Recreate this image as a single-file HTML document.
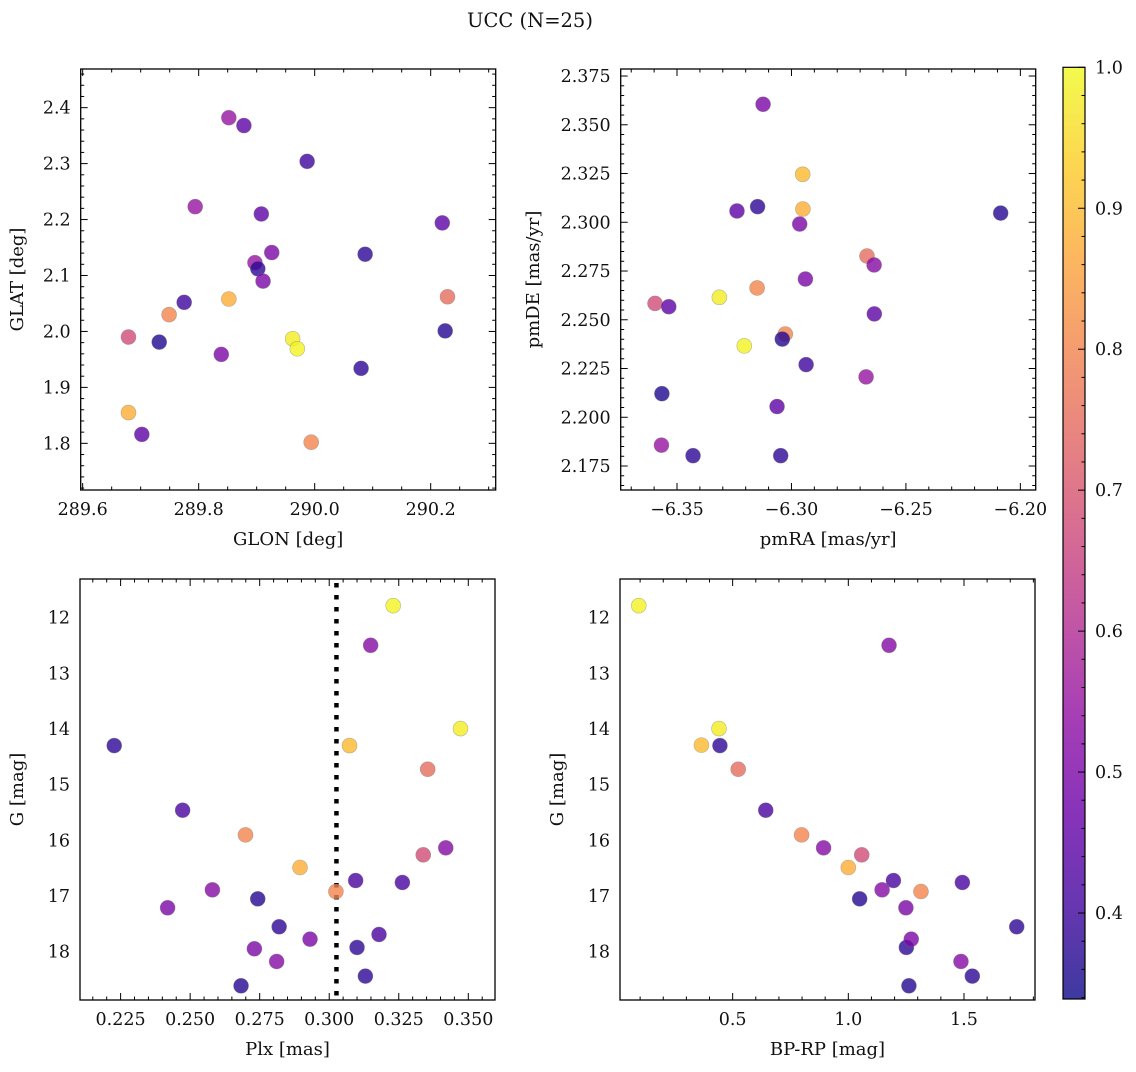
<!DOCTYPE html>
<html><head><meta charset="utf-8"><style>
html,body{margin:0;padding:0;background:#fff;}
svg text{font-family:"DejaVu Serif","Liberation Serif",serif;fill:#111;}
</style></head><body>
<svg id="fig" xmlns="http://www.w3.org/2000/svg" width="1136" height="1067" viewBox="0 0 1136 1067">
<text x="530" y="27" font-size="19.5" text-anchor="middle">UCC (N=25)</text>
<defs>
<linearGradient id="cbgrad" x1="0" y1="1" x2="0" y2="0">
<stop offset="0" stop-color="#0d0887"/><stop offset="0.1" stop-color="#41049d"/><stop offset="0.2" stop-color="#6a00a8"/><stop offset="0.3" stop-color="#8f0da4"/><stop offset="0.4" stop-color="#b12a90"/><stop offset="0.5" stop-color="#cc4778"/><stop offset="0.6" stop-color="#e16462"/><stop offset="0.7" stop-color="#f2844b"/><stop offset="0.8" stop-color="#fca636"/><stop offset="0.9" stop-color="#fcce25"/><stop offset="1" stop-color="#f0f921"/>
</linearGradient>
</defs>
</svg>
<script>
// ---- data ----
const glon = [289.852,289.878,289.987,289.794,289.908,290.220,289.926,290.087,289.897,289.902,289.911,290.229,289.852,289.775,289.749,290.225,289.679,289.962,289.732,289.970,289.839,290.080,289.679,289.702,289.994];
const glat = [2.382,2.368,2.304,2.223,2.210,2.194,2.141,2.138,2.123,2.112,2.090,2.062,2.058,2.052,2.030,2.001,1.990,1.987,1.981,1.969,1.959,1.934,1.855,1.816,1.802];
const probP1 = [0.55,0.45,0.40,0.55,0.45,0.45,0.50,0.38,0.55,0.38,0.50,0.75,0.88,0.40,0.80,0.37,0.68,0.98,0.36,0.99,0.50,0.38,0.88,0.45,0.80];

const pmra = [-6.3124,-6.2951,-6.3148,-6.3238,-6.2086,-6.2950,-6.2964,-6.2670,-6.2639,-6.2939,-6.3315,-6.3596,-6.3536,-6.3150,-6.2638,-6.3027,-6.3040,-6.3206,-6.2936,-6.2674,-6.3566,-6.3063,-6.3568,-6.3430,-6.3047];
const pmde = [2.3605,2.3246,2.3080,2.3058,2.3047,2.3068,2.2991,2.2827,2.2781,2.2709,2.2615,2.2584,2.2567,2.2663,2.2530,2.2427,2.2401,2.2366,2.2270,2.2207,2.2121,2.2055,2.1857,2.1803,2.1803];
const probP2 = [0.50,0.90,0.38,0.45,0.37,0.88,0.50,0.75,0.52,0.50,0.98,0.68,0.45,0.80,0.45,0.80,0.37,0.99,0.40,0.55,0.36,0.45,0.55,0.38,0.38];

const plx = [0.3230,0.3149,0.3472,0.2227,0.3073,0.3354,0.2473,0.2699,0.3419,0.3338,0.2895,0.3095,0.3263,0.2580,0.3024,0.2743,0.2419,0.2820,0.3179,0.2931,0.3100,0.2731,0.2811,0.3130,0.2683];
const gP3 = [11.785,12.497,13.993,14.298,14.298,14.723,15.459,15.902,16.135,16.261,16.488,16.722,16.757,16.889,16.919,17.051,17.212,17.553,17.691,17.775,17.924,17.948,18.176,18.439,18.613];
const probP3 = [0.99,0.52,0.98,0.38,0.90,0.75,0.42,0.80,0.52,0.68,0.88,0.42,0.42,0.52,0.80,0.37,0.50,0.38,0.42,0.50,0.38,0.50,0.52,0.38,0.37];

const bprp = [0.094,1.176,0.441,0.365,0.445,0.524,0.643,0.798,0.893,1.058,1.000,1.195,1.493,1.146,1.314,1.049,1.249,1.728,1.251,1.272,1.487,1.536,1.262];
const gP4 = [11.785,12.497,13.993,14.290,14.298,14.723,15.459,15.902,16.135,16.261,16.488,16.722,16.757,16.889,16.919,17.051,17.212,17.553,17.924,17.775,18.176,18.439,18.613];
const probP4 = [0.99,0.52,0.98,0.90,0.38,0.75,0.42,0.80,0.52,0.68,0.88,0.42,0.42,0.52,0.80,0.37,0.50,0.38,0.38,0.50,0.52,0.38,0.37];

const plxLine = [0.3026];
const cbTicks = [0.4,0.5,0.6,0.7,0.8,0.9,1.0];
const xTicksP1 = [289.6,289.8,290.0,290.2];
const yTicksP1 = [1.8,1.9,2.0,2.1,2.2,2.3,2.4];
const xTicksP2 = [-6.35,-6.30,-6.25,-6.20];
const yTicksP2 = [2.175,2.200,2.225,2.250,2.275,2.300,2.325,2.350,2.375];
const xTicksP3 = [0.225,0.250,0.275,0.300,0.325,0.350];
const yTicksG = [12,13,14,15,16,17,18];
const xTicksP4 = [0.5,1.0,1.5];

const NS = "http://www.w3.org/2000/svg";
const svg = document.getElementById('fig');
const VMIN = 0.339, VMAX = 1.0;
const stops = [[13,8,135],[65,4,157],[106,0,168],[143,13,164],[177,42,144],[204,71,120],[225,100,98],[242,132,75],[252,166,54],[252,206,37],[240,249,33]];
function cmap(v){
  let t=(v-VMIN)/(VMAX-VMIN); t=Math.max(0,Math.min(1,t));
  const p=t*10, i=Math.min(9,Math.floor(p)), f=p-i;
  const c=stops[i].map((a,k)=>Math.round(a+(stops[i+1][k]-a)*f));
  return 'rgb('+c.join(',')+')';
}
function mk(tag, attrs, parent){
  const e=document.createElementNS(NS,tag);
  for(const k in attrs) e.setAttribute(k,attrs[k]);
  (parent||svg).appendChild(e); return e;
}
function fmtDash(s){return s.replace('-','\u2212');}

function panel(p){
  const g=mk('g',{});
  
  
  const sx=v=>p.x0+(v-p.xmin)/(p.xmax-p.xmin)*(p.x1-p.x0);
  const sy=v=>p.y1-(v-p.ymin)/(p.ymax-p.ymin)*(p.y1-p.y0);
  if(p.vline){
    p.vline.forEach(v=>{
      const l=mk('line',{x1:sx(v),x2:sx(v),y1:p.y0+4,y2:p.y1,stroke:'#000','stroke-width':4.5,'stroke-dasharray':'4.5,7.5'},g);
      
      
    });
  }
  for(let i=0;i<p.xs.length;i++){
    const c=mk('circle',{cx:sx(p.xs[i]),cy:sy(p.ys[i]),r:7.5,fill:cmap(p.cs[i]),'fill-opacity':0.8,stroke:'#777','stroke-opacity':0.5,'stroke-width':0.6},g);
    
    
  }
  const fr=mk('rect',{x:p.x0,y:p.y0,width:p.x1-p.x0,height:p.y1-p.y0,fill:'none',stroke:'#000','stroke-width':1.3},g);
  
  
  const tk=mk('g',{stroke:'#000','stroke-width':1},g);
  
  
  const eps=1e-9;
  for(let v=Math.ceil(p.xmin/p.xminor-eps)*p.xminor; v<=p.xmax+eps; v+=p.xminor){
    const X=sx(v); if(X<p.x0-0.5||X>p.x1+0.5) continue;
    const major=p.xt.some(t=>Math.abs(t-v)<p.xminor*0.3);
    const L=major?7:3.5;
    mk('line',{x1:X,x2:X,y1:p.y1,y2:p.y1-L},tk); mk('line',{x1:X,x2:X,y1:p.y0,y2:p.y0+L},tk);
  }
  for(let v=Math.ceil(p.ymin/p.yminor-eps)*p.yminor; v<=p.ymax+eps; v+=p.yminor){
    const Y=sy(v); if(Y<p.y0-0.5||Y>p.y1+0.5) continue;
    const major=p.yt.some(t=>Math.abs(t-v)<p.yminor*0.3);
    const L=major?7:3.5;
    mk('line',{x1:p.x0,x2:p.x0+L,y1:Y,y2:Y},tk); mk('line',{x1:p.x1,x2:p.x1-L,y1:Y,y2:Y},tk);
  }
  p.xt.forEach(v=>{
    const t=mk('text',{x:sx(v),y:p.y1+25,'font-size':17.5,'text-anchor':'middle'},g);
    t.textContent=fmtDash(v.toFixed(p.xdec));
    
    
  });
  p.yt.forEach(v=>{
    const t=mk('text',{x:p.x0-10,y:sy(v)+6,'font-size':17.5,'text-anchor':'end'},g);
    t.textContent=fmtDash(v.toFixed(p.ydec));
    
    
  });
  const xl=mk('text',{x:(p.x0+p.x1)/2,y:p.y1+55,'font-size':18,'text-anchor':'middle'},g);
  xl.textContent=p.xlabel;
  
  
  const yc=(p.y0+p.y1)/2;
  const yl=mk('text',{x:p.ylx,y:yc,'font-size':18,'text-anchor':'middle',transform:'rotate(-90 '+p.ylx+' '+yc+')'},g);
  yl.textContent=p.ylabel;
  
  
}

panel({name:'glon-glat-panel',x0:80.7,x1:495.7,y0:69,y1:490,xmin:289.5966,xmax:290.3121,ymin:1.7166,ymax:2.4691,
  xs:glon,ys:glat,cs:probP1,xt:xTicksP1,yt:yTicksP1,xminor:0.05,yminor:0.02,xdec:1,ydec:1,xlabel:'GLON [deg]',ylabel:'GLAT [deg]',ylx:23});
panel({name:'pm-panel',x0:620.7,x1:1035.7,y0:69,y1:490,xmin:-6.3746,xmax:-6.1933,ymin:2.1627,ymax:2.3786,
  xs:pmra,ys:pmde,cs:probP2,xt:xTicksP2,yt:yTicksP2,xminor:0.01,yminor:0.005,xdec:2,ydec:3,xlabel:'pmRA [mas/yr]',ylabel:'pmDE [mas/yr]',ylx:539});
panel({name:'plx-g-panel',x0:80,x1:495,y0:579,y1:1000,xmin:0.2104,xmax:0.3596,ymin:18.868,ymax:11.306,
  xs:plx,ys:gP3,cs:probP3,xt:xTicksP3,yt:yTicksG,xminor:0.005,yminor:0.2,xdec:3,ydec:0,xlabel:'Plx [mas]',ylabel:'G [mag]',ylx:23,vline:plxLine});
panel({name:'cmd-panel',x0:620,x1:1035,y0:579,y1:1000,xmin:0.013,xmax:1.807,ymin:18.868,ymax:11.306,
  xs:bprp,ys:gP4,cs:probP4,xt:xTicksP4,yt:yTicksG,xminor:0.1,yminor:0.2,xdec:1,ydec:0,xlabel:'BP-RP [mag]',ylabel:'G [mag]',ylx:563});

// colorbar
(function(){
  const x0=1063,x1=1085,y0=67.3,y1=999;
  const g=mk('g',{});
  
  
  const r=mk('rect',{x:x0,y:y0,width:x1-x0,height:y1-y0,fill:'url(#cbgrad)','fill-opacity':0.8},g);
  
  
  mk('rect',{x:x0,y:y0,width:x1-x0,height:y1-y0,fill:'none',stroke:'#000','stroke-width':1.2},g);
  const sy=v=>y1-(v-VMIN)/(VMAX-VMIN)*(y1-y0);
  for(let k=Math.ceil(VMIN*50);k<=50;k++){
    const v=k/50, Y=sy(v);
    const major=cbTicks.some(t=>Math.abs(t-v)<0.005);
    mk('line',{x1:x1,x2:x1-(major?7:3.5),y1:Y,y2:Y,stroke:'#000','stroke-width':1},g);
  }
  cbTicks.forEach(v=>{
    const t=mk('text',{x:x1+10,y:sy(v)+6,'font-size':17.5},g);
    t.textContent=v.toFixed(1);
    
    
  });
})();
</script>
</body></html>
